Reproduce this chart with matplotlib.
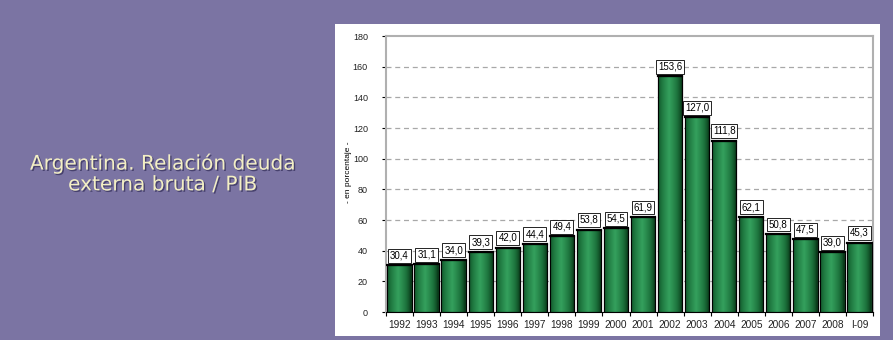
import numpy as np
import matplotlib.pyplot as plt
from matplotlib.patches import Rectangle
from matplotlib.colors import LinearSegmentedColormap
import matplotlib.patheffects as pe

# Argentina: gross external debt / GDP (in percent)
years = ["1992", "1993", "1994", "1995", "1996", "1997", "1998", "1999", "2000",
         "2001", "2002", "2003", "2004", "2005", "2006", "2007", "2008", "I-09"]
ratio = [30.4, 31.1, 34.0, 39.3, 42.0, 44.4, 49.4, 53.8, 54.5,
         61.9, 153.6, 127.0, 111.8, 62.1, 50.8, 47.5, 39.0, 45.3]
yticks = [0, 20, 40, 60, 80, 100, 120, 140, 160, 180]

W, H = 893, 340
fig = plt.figure(figsize=(W / 100, H / 100), dpi=100)
fig.patch.set_facecolor("#7b74a3")

# white chart panel, behind the axes
fig.patches.append(Rectangle((335 / W, 1 - 336 / H), 545 / W, 312 / H,
                             transform=fig.transFigure, facecolor="white",
                             edgecolor="none", zorder=-5))

# title on the left
fig.text(163 / W, 1 - 174 / H, "Argentina. Relación deuda\nexterna bruta / PIB",
         ha="center", va="center", fontsize=14.5, family="DejaVu Sans",
         color="#f3efc4", linespacing=1.12,
         path_effects=[pe.withSimplePatchShadow(offset=(1, -1), shadow_rgbFace="#3a3560", alpha=0.8)])

ax = fig.add_axes([386 / W, 1 - 312 / H, 487 / W, 276 / H])
ax.set_facecolor("white")
x = np.arange(len(years))
ax.set_xlim(-0.5, len(years) - 0.5)
ax.set_ylim(0, 180)

# dashed grid
for yv in yticks[1:-1]:
    ax.axhline(yv, color="#a8a8a8", lw=0.9, ls=(0, (4, 3)), zorder=1)

# bars with a horizontal green gradient
grad = np.linspace(0, 1, 64)
grad = 1 - np.abs(grad - 0.45) * 2
grad = np.clip(grad, 0, 1) ** 0.7
cmap = LinearSegmentedColormap.from_list("g", ["#0a3a1a", "#1d743d", "#34a05d"])
bw = 0.9
bars = ax.bar(x, ratio, width=bw, color="#1f7a40", edgecolor="black", lw=0.8, zorder=2)
for b in bars:
    x0, h = b.get_x(), b.get_height()
    im = ax.imshow(grad[np.newaxis, :], cmap=cmap, aspect="auto",
                   extent=[x0, x0 + bw, 0, h], zorder=2.5, vmin=0, vmax=1)
    im.set_clip_path(b)
    ax.add_patch(Rectangle((x0, 0), bw, h, fill=False, edgecolor="black", lw=0.8, zorder=3))
    ax.plot([x0, x0 + bw], [h, h], color="black", lw=1.6, zorder=3.1)

# value labels
for xi, v in zip(x, ratio):
    ax.text(xi, v + 3.0, f"{v:.1f}".replace(".", ","), ha="center", va="bottom",
            fontsize=7, family="Liberation Sans", zorder=4,
            bbox=dict(boxstyle="square,pad=0.2", facecolor="white", edgecolor="black", lw=0.6))

ax.set_yticks(yticks)
ax.set_yticklabels([str(t) for t in yticks], fontsize=6.5, family="Liberation Sans", color="#222222")
ax.set_xticks(x)
ax.set_xticklabels(years, fontsize=7.3, family="Liberation Sans", color="#222222")
ax.set_xticks(np.arange(-0.5, len(years), 1), minor=True)
ax.tick_params(axis="x", which="major", length=0, pad=6)
ax.tick_params(axis="x", which="minor", length=3, width=0.8, color="black")
ax.tick_params(axis="y", length=3, width=0.8, color="black", pad=10)

for side in ["left", "top", "right"]:
    ax.spines[side].set_color("#b0b0b0")
    ax.spines[side].set_linewidth(1.5)
ax.spines["bottom"].set_color("black")
ax.spines["bottom"].set_linewidth(0.8)

fig.text(349 / W, 1 - 172 / H, "- en porcentaje -", rotation=90, ha="center", va="center",
         fontsize=6, family="Liberation Sans", color="black")

fig.savefig("out.png", dpi=100, facecolor=fig.get_facecolor())
